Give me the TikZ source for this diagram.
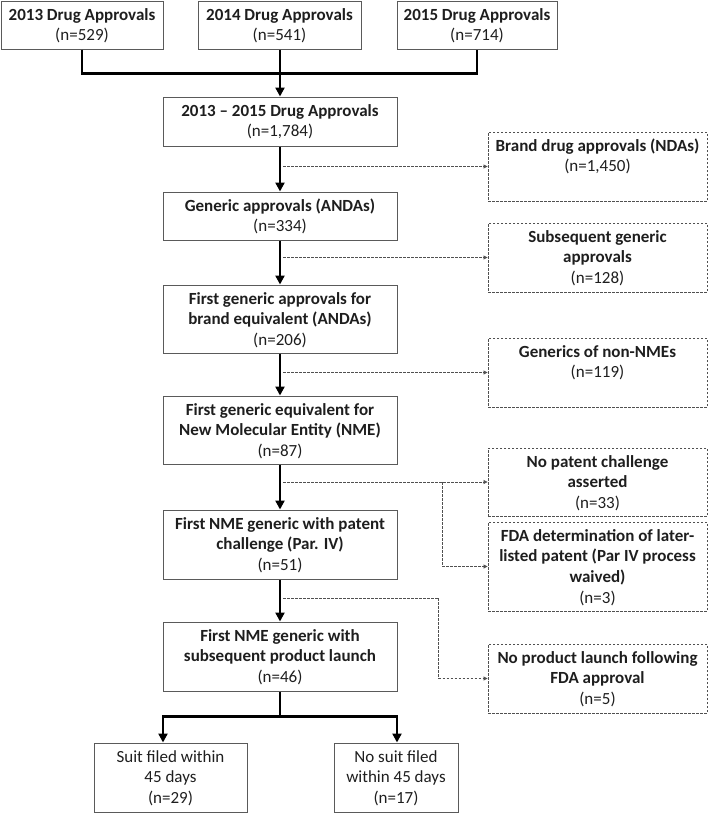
\documentclass[tikz,border=0pt]{standalone}
\usepackage{fontspec}
\setmainfont{Carlito}
\usetikzlibrary{arrows.meta,calc}
\definecolor{bord}{HTML}{5A5A5A}
\definecolor{txt}{HTML}{1E1E1E}
\definecolor{dgray}{HTML}{505050}
\newcommand\cl[1]{\makebox[0pt]{#1}}
\newcommand\bt[3]{\parbox[c][#2][t]{#1}{\centering\fontsize{17}{20.7}\selectfont\rule{0pt}{19pt}#3\par}}
\begin{document}
\begin{tikzpicture}[x=1pt,y=-1pt,
  every node/.append style={text=txt},
  box/.style={draw=bord, line width=1pt, inner sep=0pt},
  dbox/.style={draw=dgray, line width=0.9pt, dash pattern=on 2.5pt off 1.5pt, inner sep=0pt},
  mline/.style={draw=black, line width=2.8pt},
  marrow/.style={mline, -{Triangle[length=9pt,width=9pt]}},
  darrow/.style={draw=dgray, line width=0.8pt, dash pattern=on 2.5pt off 1.5pt, -{Triangle[length=4pt,width=4pt]}}]
\useasboundingbox (0,0) rectangle (709,814);

% top row
\node[box] (A13) at (82,25) {\bt{162pt}{48pt}{\cl{\textbf{2013 Drug Approvals}}\\\cl{(n=529)}}};
\node[box] (A14) at (279.5,25) {\bt{163pt}{48pt}{\cl{\textbf{2014 Drug Approvals}}\\\cl{(n=541)}}};
\node[box] (A15) at (477,25) {\bt{160pt}{48pt}{\cl{\textbf{2015 Drug Approvals}}\\\cl{(n=714)}}};

% main column
\node[box] (All) at (280,121.5) {\bt{234pt}{49pt}{\cl{\textbf{2013 – 2015 Drug Approvals}}\\\cl{(n=1,784)}}};
\node[box] (ANDA) at (280,216) {\bt{234pt}{48pt}{\cl{\textbf{Generic approvals (ANDAs)}}\\\cl{(n=334)}}};
\node[box] (FG) at (280,319) {\bt{234pt}{68pt}{\cl{\textbf{First generic approvals for}}\\\cl{\textbf{brand equivalent (ANDAs)}}\\\cl{(n=206)}}};
\node[box] (NME) at (280,430) {\bt{234pt}{68pt}{\cl{\textbf{First generic equivalent for}}\\\cl{\textbf{New Molecular Entity (NME)}}\\\cl{(n=87)}}};
\node[box] (ParIV) at (280,544.5) {\bt{234pt}{69pt}{\cl{\textbf{First NME generic with patent}}\\\cl{\textbf{challenge (Par. IV)}}\\\cl{(n=51)}}};
\node[box] (Launch) at (280,656.5) {\bt{234pt}{69pt}{\cl{\textbf{First NME generic with}}\\\cl{\textbf{subsequent product launch}}\\\cl{(n=46)}}};

% bottom row
\node[box] (Suit) at (170.5,777.5) {\bt{153pt}{69pt}{\cl{Suit filed within}\\\cl{45 days}\\\cl{(n=29)}}};
\node[box] (NoSuit) at (396,777.5) {\bt{124pt}{69pt}{\cl{No suit filed}\\\cl{within 45 days}\\\cl{(n=17)}}};

% excluded (dashed) boxes
\node[dbox] (Brand) at (597.5,166.5) {\bt{219pt}{69pt}{\cl{\textbf{Brand drug approvals (NDAs)}}\\\cl{(n=1,450)}}};
\node[dbox] (Subs) at (597.5,257.5) {\bt{219pt}{69pt}{\cl{\textbf{Subsequent generic}}\\\cl{\textbf{approvals}}\\\cl{(n=128)}}};
\node[dbox] (NonNME) at (597.5,372.5) {\bt{219pt}{69pt}{\cl{\textbf{Generics of non-NMEs}}\\\cl{(n=119)}}};
\node[dbox] (NoPat) at (597.5,482) {\bt{219pt}{68pt}{\cl{\textbf{No patent challenge}}\\\cl{\textbf{asserted}}\\\cl{(n=33)}}};
\node[dbox] (FDA) at (597.5,566.5) {\bt{219pt}{89pt}{\cl{\textbf{FDA determination of later-}}\\\cl{\textbf{listed patent (Par IV process}}\\\cl{\textbf{waived)}}\\\cl{(n=3)}}};
\node[dbox] (NoLaunch) at (597.5,678.5) {\bt{219pt}{69pt}{\cl{\textbf{No product launch following}}\\\cl{\textbf{FDA approval}}\\\cl{(n=5)}}};

% top merge
\draw[mline] (A13.south) -- ++(0,24) -| (A15.south);
\draw[marrow] (All.north |- A14.south) -- (All.north);

% main flow
\draw[marrow] (All.south) -- (ANDA.north);
\draw[marrow] (ANDA.south) -- (FG.north);
\draw[marrow] (FG.south) -- (NME.north);
\draw[marrow] (NME.south) -- (ParIV.north);
\draw[marrow] (ParIV.south) -- (Launch.north);

% split at bottom
\draw[mline] (Launch.south) -- ++(0,25) coordinate (br);
\draw[marrow] (br) -| ([xshift=-7.5]Suit.north);
\draw[marrow] (br) -| ([xshift=1]NoSuit.north);

% exclusions
\draw[darrow] ([xshift=3]All.south |- Brand.west) -- (Brand.west);
\draw[darrow] ([xshift=3]ANDA.south |- Subs.west) -- (Subs.west);
\draw[darrow] ([xshift=3]FG.south |- NonNME.west) -- (NonNME.west);
\draw[darrow] ([xshift=3]NME.south |- NoPat.west) -- (NoPat.west);
\draw[darrow] ([xshift=-45]FDA.west |- NoPat.west) |- (FDA.west);
\coordinate (j2) at (283,598);
\draw[darrow] (j2) -| ([xshift=-49]NoLaunch.west) -- (NoLaunch.west);
\end{tikzpicture}
\end{document}
